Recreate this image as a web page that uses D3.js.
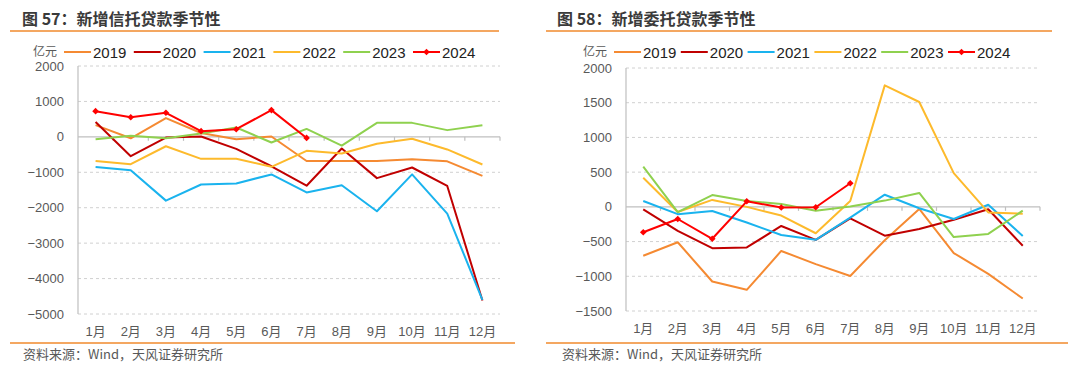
<!DOCTYPE html>
<html><head><meta charset="utf-8">
<script src="https://cdn.jsdelivr.net/npm/d3@7/dist/d3.min.js"></script>
<style>
body{margin:0;background:#fff;}
svg{display:block;font-family:"Liberation Sans",Arial,"Noto Sans CJK SC",sans-serif;}
</style></head><body>
<svg id="c" width="1080" height="366"></svg>
<script>
const months = ["1月","2月","3月","4月","5月","6月","7月","8月","9月","10月","11月","12月"];
const years = ["2019","2020","2021","2022","2023","2024"];
const colors = ["#F58A32","#C00000","#1AB3EE","#FDBA2C","#8FD14F","#FF0000"];

// 图57 新增信托贷款 (亿元)
const trust2019 = [330,-40,530,110,-65,10,-680,-680,-680,-630,-690,-1100];
const trust2020 = [420,-545,-20,10,-340,-830,-1380,-330,-1165,-865,-1385,-4620];
const trust2021 = [-850,-940,-1800,-1345,-1315,-1060,-1570,-1365,-2100,-1060,-2165,-4600];
const trust2022 = [-680,-770,-265,-620,-620,-845,-395,-470,-195,-55,-355,-780];
const trust2023 = [-65,30,-40,95,265,-160,225,-245,395,395,190,330];
const trust2024 = [725,555,680,160,215,755,-30];
const trustTicks = [2000,1000,0,-1000,-2000,-3000,-4000,-5000];

// 图58 新增委托贷款 (亿元)
const ent2019 = [-705,-510,-1075,-1195,-635,-825,-995,-480,-30,-665,-965,-1320];
const ent2020 = [-35,-345,-595,-585,-275,-475,-165,-415,-320,-185,-35,-560];
const ent2021 = [85,-105,-60,-225,-405,-475,-155,175,-20,-175,30,-420];
const ent2022 = [420,-75,100,0,-125,-380,85,1750,1510,485,-80,-100];
const ent2023 = [580,-75,170,85,40,-55,5,90,200,-435,-390,-55];
const ent2024 = [-365,-175,-460,80,-10,-5,340];
const entTicks = [2000,1500,1000,500,0,-500,-1000,-1500];

const svg = d3.select("#c");
const marker = d3.symbol().type(d3.symbolSquare).size(22);

function panel(o){
  const g = svg.append("g");
  // title
  g.append("text").attr("x",o.titleX).attr("y",25).attr("font-size",16).attr("font-weight","bold")
    .attr("fill","#3a3a3a").attr("font-family",'"Noto Sans CJK SC","Liberation Sans",sans-serif').text(o.title);
  g.append("line").attr("x1",o.ruleX1).attr("x2",o.ruleX2).attr("y1",31).attr("y2",31)
    .attr("stroke","#F08A2C").attr("stroke-width",1.5);
  g.append("line").attr("x1",o.ruleX1).attr("x2",o.botRuleX2).attr("y1",343).attr("y2",343)
    .attr("stroke","#F08A2C").attr("stroke-width",1.5);
  g.append("text").attr("x",o.srcX).attr("y",359).attr("font-size",13).attr("fill","#595959")
    .attr("font-family",'"Noto Sans CJK SC","Liberation Sans",sans-serif').text("资料来源：Wind，天风证券研究所");

  const x = d3.scaleBand().domain(months).range([o.x0,o.x1]).padding(0);
  const y = d3.scaleLinear().domain(o.domain).range([o.y0,o.y1]);

  // grid
  g.selectAll(".grid").data(o.ticks.filter(t=>t!==0)).enter().append("line")
    .attr("x1",o.x0).attr("x2",o.x1).attr("y1",d=>y(d)).attr("y2",d=>y(d))
    .attr("stroke","#d0d0d0").attr("stroke-dasharray","3,3").attr("stroke-width",1);
  // y labels
  g.selectAll(".yl").data(o.ticks).enter().append("text")
    .attr("x",o.x0-14).attr("y",d=>y(d)+4.5).attr("text-anchor","end")
    .attr("font-size",13).attr("fill","#595959").text(d=>d<0?"\u2212"+Math.abs(d):d);
  // y axis line
  g.append("line").attr("x1",o.x0).attr("x2",o.x0).attr("y1",y(o.domain[1])).attr("y2",y(o.domain[0]))
    .attr("stroke","#bfbfbf").attr("stroke-width",1.2);
  // zero line and ticks
  g.append("line").attr("x1",o.x0).attr("x2",o.x1).attr("y1",y(0)).attr("y2",y(0))
    .attr("stroke","#bfbfbf").attr("stroke-width",1.2);
  const bounds = months.map(m=>x(m)+x.bandwidth());
  g.selectAll(".tk").data(bounds).enter().append("line")
    .attr("x1",d=>d).attr("x2",d=>d).attr("y1",y(0)).attr("y2",y(0)+4)
    .attr("stroke","#bfbfbf").attr("stroke-width",1.2);
  // x labels
  g.selectAll(".xl").data(months).enter().append("text")
    .attr("x",d=>x(d)+x.bandwidth()/2).attr("y",o.xLabelY).attr("text-anchor","middle")
    .attr("font-size",13).attr("fill","#595959")
    .attr("font-family",'"Liberation Sans","Noto Sans CJK SC",sans-serif').text(d=>d);

  const line = d3.line().x((d,i)=>x(months[i])+x.bandwidth()/2).y(d=>y(d));
  o.series.forEach((s,k)=>{
    g.append("path").datum(s).attr("d",line).attr("fill","none")
      .attr("stroke",colors[k]).attr("stroke-width",2).attr("stroke-linejoin","round");
  });
  const last = o.series[5];
  g.selectAll(".mk").data(last).enter().append("path")
    .attr("d",marker)
    .attr("transform",(d,i)=>`translate(${x(months[i])+x.bandwidth()/2},${y(d)}) rotate(45)`)
    .attr("fill",colors[5]);

  // legend
  g.append("text").attr("x",o.legX-31).attr("y",55.5).attr("font-size",12).attr("fill","#595959")
    .attr("font-family",'"Noto Sans CJK SC",sans-serif').text("亿元");
  years.forEach((yr,k)=>{
    const lx = o.legX + k*o.legStep;
    g.append("line").attr("x1",lx).attr("x2",lx+27).attr("y1",52).attr("y2",52)
      .attr("stroke",colors[k]).attr("stroke-width",2);
    if(k===5) g.append("path").attr("d",marker)
      .attr("transform",`translate(${lx+13.5},52) rotate(45)`).attr("fill",colors[5]);
    g.append("text").attr("x",lx+29).attr("y",57.5).attr("font-size",15).attr("fill","#222").text(yr);
  });
}

panel({title:"图 57：新增信托贷款季节性", titleX:22, ruleX1:10, ruleX2:499, botRuleX2:515, srcX:23,
  x0:78, x1:500, y0:314, y1:66, domain:[-5000,2000], ticks:trustTicks, xLabelY:336,
  series:[trust2019,trust2020,trust2021,trust2022,trust2023,trust2024], legX:64, legStep:69.8});
panel({title:"图 58：新增委托贷款季节性", titleX:557, ruleX1:546, ruleX2:1052, botRuleX2:1068, srcX:562,
  x0:626, x1:1040, y0:311, y1:68, domain:[-1500,2000], ticks:entTicks, xLabelY:333,
  series:[ent2019,ent2020,ent2021,ent2022,ent2023,ent2024], legX:614, legStep:66.8});
</script>
</body></html>
